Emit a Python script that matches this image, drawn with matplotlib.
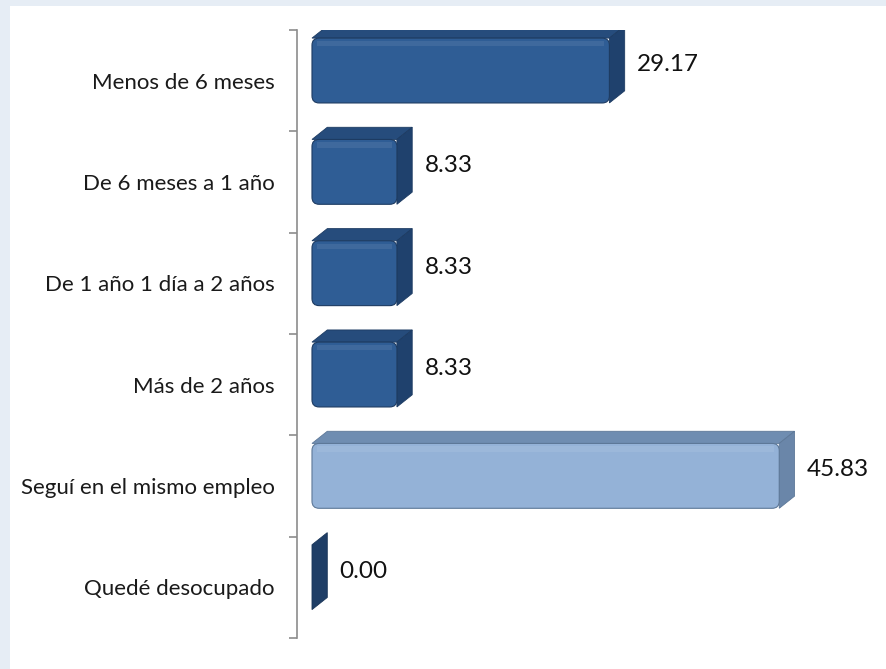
import numpy as np
import matplotlib.pyplot as plt
from matplotlib.patches import FancyBboxPatch, Polygon, Rectangle

# data
categories = ["Menos de 6 meses", "De 6 meses a 1 año", "De 1 año 1 día a 2 años",
              "Más de 2 años", "Seguí en el mismo empleo", "Quedé desocupado"]
values = [29.17, 8.33, 8.33, 8.33, 45.83, 0.00]
light = [False, False, False, False, True, False]

plt.rcParams['font.family'] = ['Lato', 'DejaVu Sans']

fig = plt.figure(figsize=(8.86, 6.69), dpi=100)
fig.patch.set_facecolor('#e6edf5')
# white panel inside the light frame
fig.patches.append(Rectangle((10 / 886, 0), 1, 1 - 6 / 669, transform=fig.transFigure,
                             facecolor='white', edgecolor='none', zorder=-10))

ax = fig.add_axes([297 / 886, 1 - 638 / 669, (886 - 297) / 886, 608 / 669])
ax.set_facecolor('none')
ax.set_xlim(-1.47, 56.3)
ax.set_ylim(5.5, -0.5)

dx, dy = 1.5, 0.12      # depth of the 3D look
face_h, shift = 0.64, -0.10

dark = dict(front='#2f5d95', top='#264c7c', side='#1f416d', edge='#1d3b62')
pale = dict(front='#94b2d7', top='#6f8db1', side='#6a86a9', edge='#5d7898')

for i, v in enumerate(values):
    c = pale if light[i] else dark
    yt = i + shift - face_h / 2
    yb = i + shift + face_h / 2
    if v > 0:
        top = Polygon([(0, yt), (dx, yt - dy), (v + dx, yt - dy), (v, yt)],
                      closed=True, facecolor=c['top'], edgecolor=c['edge'], lw=0.6, zorder=2)
        side = Polygon([(v, yt), (v + dx, yt - dy), (v + dx, yb - dy), (v, yb)],
                       closed=True, facecolor=c['side'], edgecolor=c['edge'], lw=0.6, zorder=2)
        ax.add_patch(top)
        ax.add_patch(side)
        front = FancyBboxPatch((0, yt), v, face_h,
                               boxstyle="round,pad=0,rounding_size=0.7",
                               mutation_aspect=0.101,
                               facecolor=c['front'], edgecolor=c['edge'], lw=0.8, zorder=3)
        ax.add_patch(front)
        # soft highlight along the top of the front face
        ax.add_patch(Rectangle((0.5, yt + 0.03), v - 1.0, 0.05, facecolor='white',
                               alpha=0.08, edgecolor='none', zorder=4))
    else:
        side = Polygon([(0, yt), (dx, yt - dy), (dx, yb - dy), (0, yb)],
                       closed=True, facecolor='#1f3e66', edgecolor='#1a3558', lw=0.6, zorder=2)
        ax.add_patch(side)
    ax.text(v + dx + 1.2, i - 0.16, f"{v:.2f}", ha='left', va='center',
            fontsize=17.5, color='#111111', zorder=5)

ax.set_yticks(range(len(categories)))
ax.set_yticklabels(categories, fontsize=16, color='#1a1a1a')
ax.tick_params(axis='y', which='major', length=0, pad=16)
ax.set_yticks(np.arange(-0.5, len(categories)), minor=True)
ax.tick_params(axis='y', which='minor', length=6, color='#8c8c8c', width=1.2, direction='out')

ax.xaxis.set_visible(False)
for s in ['top', 'right', 'bottom']:
    ax.spines[s].set_visible(False)
ax.spines['left'].set_color('#8c8c8c')
ax.spines['left'].set_linewidth(1.2)

fig.savefig('out.png', dpi=100, facecolor=fig.get_facecolor())
